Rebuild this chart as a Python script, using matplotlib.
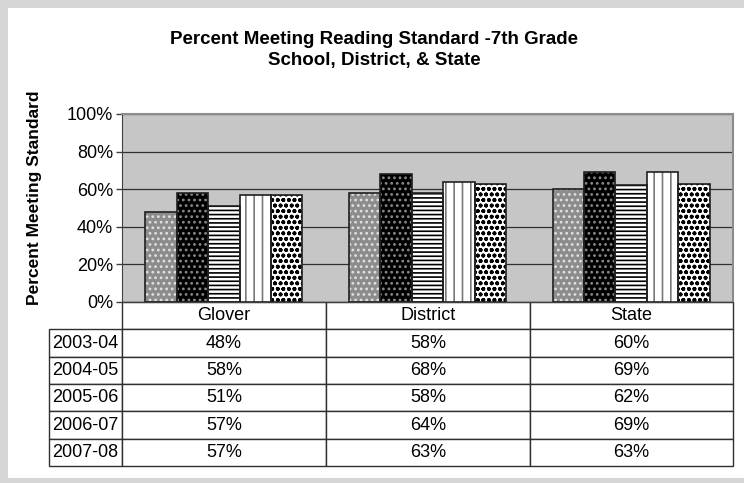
import matplotlib.pyplot as plt
import matplotlib.patches as mpatches
import numpy as np

plt.rcParams['font.family'] = ['Liberation Sans', 'DejaVu Sans']
plt.rcParams['hatch.linewidth'] = 1.2

# data
categories = ['Glover', 'District', 'State']
years = ['2003-04', '2004-05', '2005-06', '2006-07', '2007-08']
values = [
    [48, 58, 60],
    [58, 68, 69],
    [51, 58, 62],
    [57, 64, 69],
    [57, 63, 63],
]
yticks = [0, 20, 40, 60, 80, 100]

# bar styles: (face, hatch, hatch colour)
styles = [
    ('#8c8c8c', '...', '#e0e0e0'),
    ('black', '...', '#8a8a8a'),
    ('white', '----', 'black'),
    ('white', '||', '#7a7a7a'),
    ('white', 'ooo', 'black'),
]

fig = plt.figure(figsize=(7.44, 4.83), dpi=100)
fig.patch.set_facecolor('#d6d6d6')
fig.patches.append(mpatches.Rectangle((8 / 744, 5 / 483), 1, 470 / 483,
                                      transform=fig.transFigure,
                                      facecolor='white', edgecolor='none',
                                      zorder=-10))

ax = fig.add_axes([122 / 744, 1 - 302 / 483, 611 / 744, 188 / 483])
ax.set_facecolor('#c6c6c6')

x = np.arange(len(categories))
width = 0.154
n = len(years)
for i, (yr, vals) in enumerate(zip(years, values)):
    pos = x + (i - (n - 1) / 2) * width
    face, hatch, hc = styles[i]
    ax.bar(pos, vals, width, color=face, hatch=hatch, edgecolor=hc,
           linewidth=0, zorder=2)
    ax.bar(pos, vals, width, fill=False, edgecolor='#202020',
           linewidth=1.2, zorder=3)

ax.set_xlim(-0.5, len(categories) - 0.5)
ax.set_ylim(0, 100)
ax.set_yticks(yticks)
ax.set_yticklabels([f'{t}%' for t in yticks], fontsize=13)
ax.set_xticks([])
ax.tick_params(axis='y', direction='out', length=4.5, width=1, pad=2,
               color='#404040')
ax.yaxis.grid(True, color='#303030', linewidth=0.9)
ax.set_axisbelow(True)
for s in ['top', 'right']:
    ax.spines[s].set_color('#8c8c8c')
    ax.spines[s].set_linewidth(1.5)
ax.spines['left'].set_color('#404040')
ax.spines['bottom'].set_color('#404040')

# data table under the chart
cell_text = [[yr] + [f'{v}%' for v in vals] for yr, vals in zip(years, values)]
left = (49 - 122) / 611
tbl = ax.table(cellText=cell_text, colLabels=[''] + categories,
               colWidths=[73, 204, 204, 203],
               bbox=[left, -164 / 188, 1 - left, 164 / 188],
               cellLoc='center')
tbl.auto_set_font_size(False)
tbl.set_fontsize(13)
for (r, c), cell in tbl.get_celld().items():
    cell.set_edgecolor('#303030')
    cell.set_linewidth(1.0)
    if r == 0 and c == 0:
        cell.visible_edges = ''
    if c == 0 and r > 0:
        cell._loc = 'left'
        cell.PAD = 0.01

fig.text(374 / 744, 1 - 40 / 483, 'Percent Meeting Reading Standard -7th Grade',
         ha='center', va='center', fontsize=13.5, fontweight='bold')
fig.text(374 / 744, 1 - 61 / 483, 'School, District, & State',
         ha='center', va='center', fontsize=13.5, fontweight='bold')
fig.text(35 / 744, 1 - 198 / 483, 'Percent Meeting Standard', rotation=90,
         ha='center', va='center', fontsize=12.5, fontweight='bold')

fig.savefig('out.png', dpi=100, facecolor=fig.get_facecolor())
